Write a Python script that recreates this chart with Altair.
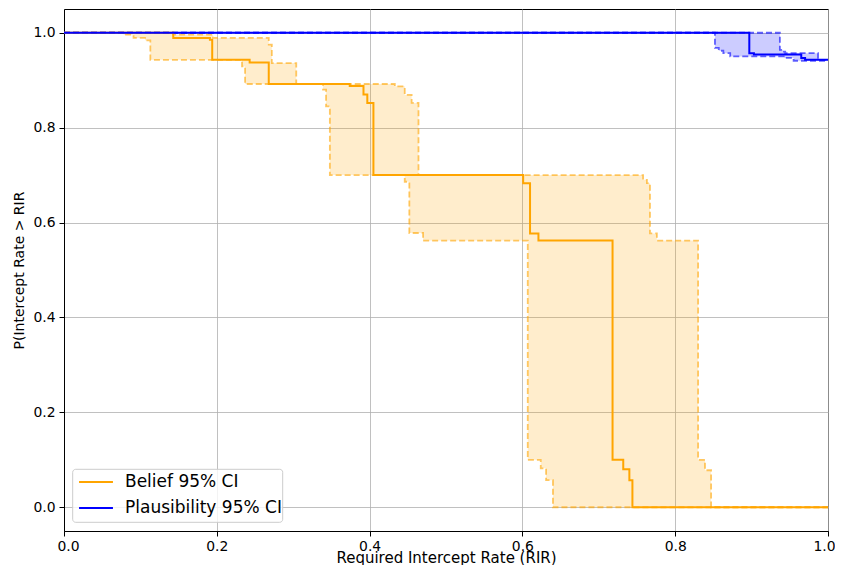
import altair as alt
import pandas as pd

# ---- data ----
belief_mid_x = [0.0, 0.143, 0.191, 0.194, 0.243, 0.268, 0.374, 0.392, 0.397, 0.405, 0.601, 0.610, 0.621, 0.718, 0.732, 0.740, 0.744, 1.0]
belief_mid_y = [1.0, 0.989, 0.985, 0.943, 0.937, 0.892, 0.888, 0.870, 0.852, 0.700, 0.683, 0.577, 0.562, 0.100, 0.080, 0.057, 0.0, 0.0]

belief_lo_x = [0.0, 0.078, 0.091, 0.106, 0.113, 0.233, 0.237, 0.339, 0.343, 0.348, 0.446, 0.452, 0.470, 0.607, 0.624, 0.631, 0.640, 1.0]
belief_lo_y = [1.0, 0.996, 0.989, 0.984, 0.943, 0.929, 0.892, 0.880, 0.845, 0.700, 0.686, 0.578, 0.562, 0.100, 0.082, 0.057, 0.0, 0.0]

belief_hi_x = [0.0, 0.143, 0.195, 0.268, 0.272, 0.304, 0.433, 0.446, 0.455, 0.464, 0.758, 0.763, 0.767, 0.776, 0.830, 0.839, 0.847, 1.0]
belief_hi_y = [1.0, 0.996, 0.989, 0.975, 0.936, 0.892, 0.887, 0.869, 0.852, 0.700, 0.690, 0.683, 0.577, 0.562, 0.100, 0.078, 0.0, 0.0]

plaus_mid_x = [0.0, 0.897, 0.903, 0.965, 0.970, 1.0]
plaus_mid_y = [1.0, 0.957, 0.954, 0.947, 0.943, 0.943]

plaus_lo_x = [0.0, 0.852, 0.857, 0.863, 0.872, 0.942, 0.955, 1.0]
plaus_lo_y = [1.0, 0.968, 0.962, 0.957, 0.950, 0.947, 0.941, 0.941]

plaus_hi_x = [0.0, 0.937, 0.941, 0.944, 0.987, 1.0]
plaus_hi_y = [1.0, 0.964, 0.960, 0.957, 0.943, 0.943]

series_names = ["Belief 95% CI", "Plausibility 95% CI"]
series_colors = ["orange", "blue"]
x_ticks = [0.0, 0.2, 0.4, 0.6, 0.8, 1.0]
y_ticks = [0.0, 0.2, 0.4, 0.6, 0.8, 1.0]

X_TITLE = "Required Intercept Rate (RIR)"
Y_TITLE = "P(Intercept Rate > RIR"
FONT = "DejaVu Sans"


def step_value(xs, ys, x):
    v = ys[0]
    for xi, yi in zip(xs, ys):
        if xi <= x:
            v = yi
    return v


def band_frame(lo_x, lo_y, hi_x, hi_y):
    grid = sorted(set(lo_x) | set(hi_x))
    return pd.DataFrame({
        "x": grid,
        "lo": [step_value(lo_x, lo_y, g) for g in grid],
        "hi": [step_value(hi_x, hi_y, g) for g in grid],
    })


xscale = alt.Scale(domain=[0, 1], nice=False, zero=False)
yscale = alt.Scale(domain=[-0.05, 1.05], nice=False, zero=False)
xaxis = alt.Axis(values=x_ticks, format=".1f", title=X_TITLE, labelFlush=True, labelFlushOffset=7,
                 titleBaseline="alphabetic", titleY=31, titleFontSize=15)
yaxis = alt.Axis(values=y_ticks, format=".1f", title=Y_TITLE, labelFlush=False)


def X(field="x"):
    return alt.X(f"{field}:Q", scale=xscale, axis=xaxis, title=X_TITLE)


def Y(field="y"):
    return alt.Y(f"{field}:Q", scale=yscale, axis=yaxis, title=Y_TITLE)


def band_layer(df, color):
    return alt.Chart(df).mark_area(interpolate="step-after", color=color, opacity=0.2).encode(
        x=X(), y=Y("lo"), y2="hi:Q"
    )


def dashed_layer(xs, ys, color):
    df = pd.DataFrame({"x": xs, "y": ys})
    return alt.Chart(df).mark_line(
        interpolate="step-after", color=color, opacity=0.6, strokeWidth=1.8, strokeDash=[6, 3]
    ).encode(x=X(), y=Y())


mid_df = pd.concat([
    pd.DataFrame({"x": belief_mid_x, "y": belief_mid_y, "series": series_names[0], "order": range(len(belief_mid_x))}),
    pd.DataFrame({"x": plaus_mid_x, "y": plaus_mid_y, "series": series_names[1], "order": range(len(plaus_mid_x))}),
])

mid_layer = alt.Chart(mid_df).mark_line(interpolate="step-after", strokeWidth=2).encode(
    x=X(), y=Y(),
    order="order:Q",
    color=alt.Color("series:N", scale=alt.Scale(domain=series_names, range=series_colors),
                    legend=alt.Legend(title=None, orient="none", legendX=14, legendY=455,
                                      symbolType="stroke", symbolStrokeWidth=2, symbolSize=1150,
                                      labelFontSize=17, labelFont=FONT, labelOffset=11,
                                      rowPadding=-1.5, padding=0, labelColor="black")),
)

# legend frame (white, semi-transparent, light grey rounded border)
frame_layer = alt.Chart(pd.DataFrame({"k": [0]})).mark_rect(
    fill="white", fillOpacity=0.8, stroke="#cccccc", strokeWidth=1, cornerRadius=3
).encode(x=alt.value(8.7), x2=alt.value(218.7), y=alt.value(460.3), y2=alt.value(513.3))

chart = alt.layer(
    band_layer(band_frame(belief_lo_x, belief_lo_y, belief_hi_x, belief_hi_y), "orange"),
    dashed_layer(belief_lo_x, belief_lo_y, "orange"),
    dashed_layer(belief_hi_x, belief_hi_y, "orange"),
    band_layer(band_frame(plaus_lo_x, plaus_lo_y, plaus_hi_x, plaus_hi_y), "blue"),
    dashed_layer(plaus_lo_x, plaus_lo_y, "blue"),
    dashed_layer(plaus_hi_x, plaus_hi_y, "blue"),
    mid_layer,
    frame_layer,
).properties(
    width=764, height=522,
    autosize=alt.AutoSizeParams(type="none"),
    padding={"left": 56, "top": 1, "right": 7, "bottom": 34},
).configure_view(
    stroke="black", strokeWidth=1
).configure_axis(
    labelFont=FONT, titleFont=FONT, labelFontSize=13.9, titleFontSize=14,
    titleFontWeight="normal", labelColor="black", titleColor="black",
    domainColor="black", tickColor="black", tickSize=5, tickWidth=1,
    gridColor="#b0b0b0", gridWidth=0.8, gridOpacity=1,
).configure_axisX(
    labelPadding=3
).configure_axisY(
    labelPadding=4, titlePadding=6
)

chart.save("out.html", embed_options={"renderer": "svg", "actions": False})
